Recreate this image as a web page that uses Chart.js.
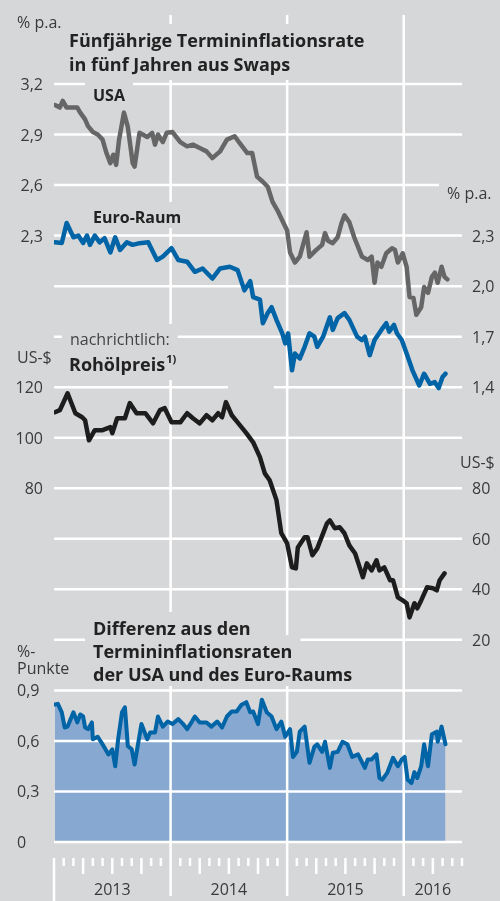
<!DOCTYPE html>
<html>
<head>
<meta charset="utf-8">
<script src="https://cdn.jsdelivr.net/npm/chart.js@4.4.1/dist/chart.umd.min.js"></script>
<style>
html,body{margin:0;padding:0;background:#fff}
canvas{display:block;background:#d6d7d9}
</style>
</head>
<body>
<canvas id="chart" width="500" height="901" style="width:500px;height:901px"></canvas>
<script>
// months counted from 1 Jan 2013
const usaMonth = [0.1,0.6,0.9,1.3,2.4,2.7,3.2,3.5,4.0,4.5,5.0,5.4,5.8,6.1,6.4,6.7,7.2,7.6,8.1,8.3,8.8,9.6,10.1,10.4,10.7,11.2,11.6,12.2,13.0,13.7,14.3,15.0,15.7,16.3,17.1,17.8,18.6,19.1,19.9,20.4,20.9,21.5,22.0,22.5,23.0,23.5,24.0,24.3,24.8,25.3,26.0,26.3,27.0,27.6,27.9,28.2,28.7,29.2,29.6,29.9,30.4,30.9,31.7,32.3,32.7,33.0,33.3,33.7,34.2,34.8,35.1,35.4,35.9,36.3,36.6,37.0,37.3,37.8,38.1,38.5,38.9,39.2,39.5,39.9,40.2,40.5]
const usaRate = [3.075,3.06,3.10,3.06,3.06,3.03,2.99,2.95,2.915,2.90,2.87,2.79,2.73,2.78,2.72,2.87,3.03,2.945,2.73,2.71,2.91,2.885,2.91,2.84,2.90,2.855,2.91,2.915,2.855,2.83,2.84,2.82,2.80,2.76,2.80,2.87,2.89,2.85,2.79,2.79,2.65,2.62,2.59,2.50,2.45,2.39,2.33,2.20,2.14,2.175,2.32,2.175,2.215,2.245,2.315,2.27,2.255,2.29,2.375,2.42,2.38,2.29,2.175,2.155,2.175,2.02,2.14,2.115,2.195,2.225,2.215,2.14,2.195,2.115,1.935,1.93,1.83,1.875,1.995,1.96,2.055,2.08,2.02,2.115,2.055,2.04]

const euroMonth = [0.1,0.8,1.3,2.0,2.5,3.0,3.4,3.7,4.2,4.7,5.2,5.8,6.3,6.8,7.5,8.1,8.8,9.7,10.6,11.2,12.1,12.8,13.7,14.5,15.3,16.3,17.1,18.1,18.9,19.6,20.2,20.5,21.2,21.5,22.0,22.4,22.9,23.5,23.8,24.1,24.5,24.8,25.3,25.8,26.3,26.8,27.1,27.7,28.4,28.7,29.2,29.9,30.4,31.2,31.7,32.0,32.5,33.0,33.7,34.2,34.5,35.0,35.3,35.8,36.3,36.9,37.6,38.1,38.7,39.2,39.6,40.0,40.3]
const euroRate = [2.26,2.256,2.375,2.29,2.30,2.256,2.30,2.245,2.30,2.26,2.285,2.20,2.29,2.215,2.26,2.245,2.255,2.26,2.155,2.175,2.225,2.155,2.145,2.085,2.105,2.045,2.105,2.115,2.095,1.975,2.03,1.935,1.92,1.78,1.84,1.875,1.80,1.72,1.66,1.72,1.50,1.60,1.57,1.64,1.72,1.70,1.64,1.70,1.815,1.74,1.81,1.84,1.80,1.70,1.68,1.70,1.59,1.68,1.74,1.78,1.73,1.77,1.72,1.68,1.60,1.50,1.41,1.48,1.42,1.43,1.395,1.46,1.48]

const oilMonth = [0.1,0.6,1.4,2.2,2.9,3.2,3.6,4.2,5.0,5.8,6.0,6.5,7.3,7.8,8.5,9.4,10.2,10.9,11.4,12.1,13.0,13.7,14.3,15.0,15.7,16.3,16.9,17.3,17.7,18.3,18.9,19.8,20.5,21.2,21.7,22.2,22.9,23.4,24.0,24.5,24.9,25.1,25.8,26.1,26.6,27.1,28.1,28.4,28.9,29.4,29.9,30.4,31.0,31.5,31.8,32.2,32.7,33.2,33.5,34.0,34.6,34.9,35.4,35.9,36.3,36.6,37.1,37.4,37.8,38.4,39.0,39.4,39.7,40.2]
const oilPrice = [110.1,110.9,117.6,109.7,108.1,106.9,99.0,103,103,104.2,101.8,107.7,107.7,113.7,109.7,109.7,105.7,110.9,111.7,106.1,106.1,109.7,107.7,105.7,108.9,106.9,109.7,108.1,114.1,108.9,106.1,101.8,98.2,92.3,85.9,83.2,75.3,62.2,58.2,48.7,48.3,56.6,60.6,60.6,53.5,56.2,66.1,67.3,64.2,64.6,62.2,57.4,54.2,48.3,44.8,50.3,47.5,51.5,47.5,48.7,43.6,43.6,36.8,35.6,34.5,28.9,34.5,32.5,35.6,40.8,40.4,39.6,43.6,46.3]

const diffMonth = [0.1,0.4,0.8,1.1,1.4,2.0,2.4,2.7,3.0,3.2,3.5,3.9,4.0,4.5,5.0,5.6,6.0,6.3,6.6,7.0,7.3,7.6,8.0,8.3,8.6,9.0,9.6,9.9,10.4,10.7,11.2,11.7,12.2,12.8,13.3,13.7,14.2,14.5,15.0,15.7,16.2,16.8,17.3,17.8,18.3,18.8,19.3,19.8,20.2,20.5,21.0,21.4,21.9,22.4,22.9,23.4,23.8,24.3,24.6,25.0,25.3,25.8,26.3,26.8,27.1,27.6,27.9,28.4,28.7,29.2,29.7,30.2,30.7,31.3,32.0,32.3,32.7,33.2,33.5,33.8,34.3,34.9,35.4,35.8,36.1,36.4,36.8,37.1,37.4,37.8,38.1,38.5,38.9,39.4,39.5,39.9,40.3]
const diffSpread = [0.816,0.82,0.77,0.68,0.685,0.77,0.71,0.757,0.745,0.68,0.67,0.71,0.61,0.625,0.58,0.52,0.55,0.45,0.61,0.77,0.80,0.57,0.55,0.46,0.565,0.70,0.61,0.65,0.65,0.745,0.685,0.715,0.70,0.73,0.70,0.67,0.715,0.745,0.71,0.71,0.685,0.715,0.68,0.745,0.775,0.775,0.815,0.83,0.77,0.775,0.70,0.845,0.77,0.745,0.67,0.715,0.625,0.67,0.505,0.535,0.655,0.685,0.47,0.565,0.58,0.535,0.595,0.44,0.53,0.535,0.595,0.58,0.505,0.52,0.44,0.49,0.49,0.52,0.38,0.37,0.41,0.50,0.45,0.49,0.505,0.37,0.35,0.415,0.38,0.45,0.58,0.45,0.64,0.655,0.595,0.685,0.58]

const inflLeftTicks = [3.2,2.9,2.6,2.3]
const inflRightTicks = [2.3,2.0,1.7,1.4]
const oilLeftTicks = [120,100,80]
const oilRightTicks = [80,60,40,20]
const diffTicks = [0.9,0.6,0.3,0]
const yearLabels = ['2013','2014','2015','2016']
const yearCenters = [6,18,30,39]

const bg = '#d6d7d9'
const dark = '#222222'
const tickColor = '#3a3a3a'
const tickFont = '16px "Open Sans"'
const boldFont = '700 18px "Open Sans"'
const midFont = '700 16px "Open Sans"'
const supFont = '700 11px "Open Sans"'

function pts(xs, ys){
  return xs.map((m,i)=>({x:m, y:ys[i]}))
}

function comma(v){
  return v===0 ? '0' : v.toFixed(1).replace('.', ',')
}

// text blocks, boxed ones hide the grid behind them
const labels = [
  {t:'% p.a.', x:17, y:28, f:tickFont, c:tickColor},
  {t:'Fünfjährige Termininflationsrate', x:69, y:47, f:boldFont, c:dark, box:true},
  {t:'in fünf Jahren aus Swaps', x:69, y:71, f:boldFont, c:dark, box:true},
  {t:'USA', x:93, y:101, f:midFont, c:dark, box:true},
  {t:'Euro-Raum', x:93, y:223, f:midFont, c:dark, box:true},
  {t:'% p.a.', x:447, y:199, f:tickFont, c:tickColor, box:true},
  {t:'nachrichtlich:', x:70, y:345, f:tickFont, c:'#444', box:true},
  {t:'US-$', x:17, y:363, f:tickFont, c:tickColor},
  {t:'Rohölpreis', x:69, y:371, f:boldFont, c:dark, box:true, sup:'1)'},
  {t:'US-$', x:460, y:468, f:tickFont, c:tickColor},
  {t:'Differenz aus den', x:93, y:635, f:boldFont, c:dark, box:true},
  {t:'Termininflationsraten', x:93, y:658, f:boldFont, c:dark, box:true},
  {t:'der USA und des Euro-Raums', x:93, y:681, f:boldFont, c:dark, box:true},
  {t:'%-', x:17, y:657, f:tickFont, c:tickColor},
  {t:'Punkte', x:17, y:674, f:tickFont, c:tickColor}
]

const decor = {
  id:'decor',
  beforeDatasetsDraw(chart){
    const {ctx, chartArea:a} = chart
    const {x, yInf, yOil, yDiff} = chart.scales
    const seg = (x1,y1,x2,y2)=>{ctx.beginPath();ctx.moveTo(x1,y1);ctx.lineTo(x2,y2);ctx.stroke()}
    ctx.save()
    ctx.strokeStyle = '#fff'
    ctx.lineWidth = 2.5
    for(let v=3.2; v>-1.35; v-=0.3){
      const py = yInf.getPixelForValue(v)
      seg(a.left, py, a.right, py)
    }
    ;[12,24,36].forEach(m=>{
      const px = x.getPixelForValue(m)
      seg(px, 15, px, 896)
    })
    seg(x.getPixelForValue(0), 858, x.getPixelForValue(0), 901)
    for(let m=1; m<=42; m++){
      if(m%12===0) continue
      const px = x.getPixelForValue(m)
      seg(px, 858, px, (m%3===0 && m<42) ? 874 : 866)
    }
    // empty frame that cuts the 120 line
    ctx.fillStyle = bg
    ctx.fillRect(228, 382, 46, 10)

    ctx.textAlign = 'left'
    ctx.textBaseline = 'alphabetic'
    labels.forEach(l=>{
      if(!l.box) return
      ctx.font = l.f
      const m = ctx.measureText(l.t)
      let w = m.width
      if(l.sup){ ctx.font = supFont; w += ctx.measureText(l.sup).width + 1 }
      ctx.fillStyle = bg
      ctx.fillRect(l.x-8, l.y-m.actualBoundingBoxAscent-9, w+16, m.actualBoundingBoxAscent+m.actualBoundingBoxDescent+14)
    })
    labels.forEach(l=>{
      ctx.font = l.f
      ctx.fillStyle = l.c
      ctx.fillText(l.t, l.x, l.y)
      if(l.sup){
        const w = ctx.measureText(l.t).width
        ctx.font = supFont
        ctx.fillText(l.sup, l.x+w+1, l.y-8)
      }
    })

    ctx.font = tickFont
    ctx.fillStyle = tickColor
    ctx.textAlign = 'right'
    inflLeftTicks.forEach(v=>ctx.fillText(comma(v), 43, yInf.getPixelForValue(v)+6))
    oilLeftTicks.forEach(v=>ctx.fillText(String(v), 43, yOil.getPixelForValue(v)+6))
    ctx.textAlign = 'left'
    inflRightTicks.forEach(v=>ctx.fillText(comma(v), 472, yInf.getPixelForValue(v)+6))
    oilRightTicks.forEach(v=>ctx.fillText(String(v), 472, yOil.getPixelForValue(v)+6))
    diffTicks.forEach(v=>ctx.fillText(comma(v), 17, yDiff.getPixelForValue(v)+6))
    ctx.textAlign = 'center'
    yearLabels.forEach((t,i)=>ctx.fillText(t, x.getPixelForValue(yearCenters[i]), 895))
    ctx.restore()
  }
}

new Chart(document.getElementById('chart'), {
  type:'line',
  data:{
    datasets:[
      {label:'Differenz', data:pts(diffMonth,diffSpread), yAxisID:'yDiff', borderColor:'#0064a6', backgroundColor:'#87a8d0', fill:'origin', borderWidth:4},
      {label:'USA', data:pts(usaMonth,usaRate), yAxisID:'yInf', borderColor:'#666667', borderWidth:4.5, fill:false},
      {label:'Euro-Raum', data:pts(euroMonth,euroRate), yAxisID:'yInf', borderColor:'#0064a6', borderWidth:4.5, fill:false},
      {label:'Rohölpreis', data:pts(oilMonth,oilPrice), yAxisID:'yOil', borderColor:'#1d1d1d', borderWidth:4.5, fill:false}
    ]
  },
  options:{
    responsive:false,
    animation:false,
    devicePixelRatio:1,
    layout:{padding:{left:54, right:38, top:84, bottom:59}},
    elements:{
      point:{radius:0},
      line:{tension:0, borderJoinStyle:'round', borderCapStyle:'round'}
    },
    plugins:{
      legend:{display:false},
      tooltip:{enabled:false},
      filler:{drawTime:'beforeDraw'}
    },
    scales:{
      x:{type:'linear', min:0, max:42, display:false},
      yInf:{type:'linear', min:-1.3, max:3.2, display:false},
      yOil:{type:'linear', min:-60, max:240, display:false},
      yDiff:{type:'linear', min:0, max:4.5, display:false}
    }
  },
  plugins:[decor]
})
</script>
</body>
</html>
